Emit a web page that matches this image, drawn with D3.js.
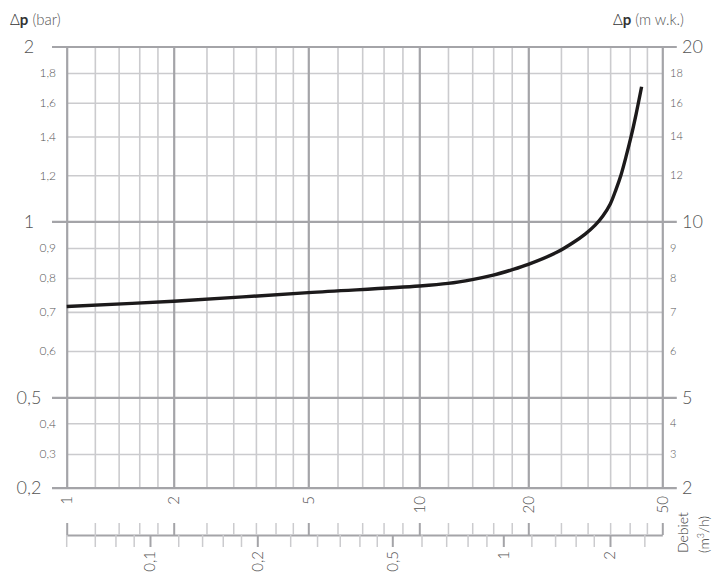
<!DOCTYPE html>
<html lang="nl">
<head>
    <meta charset="UTF-8">
    <title>Drukverlies</title>
    <script src="https://cdn.jsdelivr.net/npm/d3@7/dist/d3.min.js"></script>
    <style>
        body { margin: 0; background: #fff; }
        text { font-family: Lato, "Open Sans", sans-serif; fill: #555; font-weight: 300; }
    </style>
</head>
<body>
<script>
    var flow = [1, 2, 5, 10, 12, 14, 16, 18, 20, 24.3, 27.2, 29.5, 31.6, 33.3, 35, 36.4, 37.7, 39, 40.4, 41.8, 43.4]
    var dp = [0.715, 0.73, 0.755, 0.775, 0.783, 0.795, 0.809, 0.826, 0.844, 0.885, 0.92, 0.951, 0.985, 1.021, 1.07, 1.133, 1.202, 1.291, 1.4, 1.53, 1.705]

    var xMajor = [1, 2, 5, 10, 20, 50]
    var xMinor = [1.2, 1.4, 1.6, 1.8, 2.5, 3, 3.5, 4, 4.5, 6, 7, 8, 9, 12, 14, 16, 18, 25, 30, 35, 40, 45]
    var yMajor = [0.2, 0.5, 1, 2]
    var yMinor = [0.3, 0.4, 0.6, 0.7, 0.8, 0.9, 1.2, 1.4, 1.6, 1.8]
    var m3Major = [0.1, 0.2, 0.5, 1, 2]
    var m3Minor = [0.07, 0.08, 0.09, 0.12, 0.14, 0.16, 0.18, 0.25, 0.3, 0.35, 0.4, 0.45, 0.6, 0.7, 0.8, 0.9, 1.2, 1.4, 1.6, 1.8, 2.5]

    var width = 714, height = 577
    var nl = d3.formatLocale({decimal: ",", thousands: ".", grouping: [3], currency: ["€", ""]})
    var fmt = nl.format("~g")

    // schalen zijn niet helemaal logaritmisch, daarom stuksgewijs
    var x = d3.scaleLog().domain(xMajor).range([66.7, 173.7, 308.3, 419.3, 528.3, 662.3])
    var xm = d3.scaleLog().domain(m3Major).range([150, 257.3, 392.3, 503.3, 610])
    var y = d3.scaleLog().domain([0.2, 0.3, 0.4, 0.5, 1, 2]).range([487.7, 454, 423.3, 397.3, 221.3, 46.5])
    var yR = y.copy().domain(y.domain().map(d => d * 10))

    var L = x(1), R = x(50), T = y(2), B = y(0.2)
    var minorCol = '#cbcbce', majorCol = '#a4a4a8'

    var svg = d3.select('body').append('svg')
        .attr('width', width)
        .attr('height', height)

    // verticale rasterlijnen
    svg.append('g')
        .attr('transform', 'translate(0,' + B + ')')
        .call(d3.axisBottom(x).tickValues(xMinor).tickSize(-(B - T)).tickFormat(''))
        .call(g => g.select('.domain').remove())
        .call(g => g.selectAll('line').attr('stroke', minorCol).attr('stroke-width', 1.6))

    // horizontale rasterlijnen
    svg.append('g')
        .attr('transform', 'translate(' + L + ',0)')
        .call(d3.axisLeft(y).tickValues(yMinor).tickSize(-(R - L)).tickFormat(''))
        .call(g => g.select('.domain').remove())
        .call(g => g.selectAll('line').attr('stroke', minorCol).attr('stroke-width', 1.6))

    svg.append('g')
        .attr('transform', 'translate(0,' + B + ')')
        .call(d3.axisBottom(x).tickValues(xMajor).tickSize(-(B - T)).tickFormat(''))
        .call(g => g.select('.domain').remove())
        .call(g => g.selectAll('line').attr('stroke', majorCol).attr('stroke-width', 2.2))

    svg.append('g')
        .attr('transform', 'translate(' + (R + 14.5) + ',0)')
        .call(d3.axisLeft(y).tickValues(yMajor).tickSize(R + 14.5 - 52).tickFormat(''))
        .call(g => g.select('.domain').remove())
        .call(g => g.selectAll('line').attr('stroke', majorCol).attr('stroke-width', 2.2))

    // labels links
    svg.selectAll('.ylab-major').data(yMajor).enter().append('text')
        .attr('x', 29).attr('y', d => y(d)).attr('dy', '0.35em')
        .attr('text-anchor', 'middle').style('font-size', '18px')
        .text(d => fmt(d))
    svg.selectAll('.ylab-minor').data(yMinor).enter().append('text')
        .attr('x', 56).attr('y', d => y(d)).attr('dy', '0.35em')
        .attr('text-anchor', 'end').style('font-size', '12px')
        .text(d => fmt(d))

    // labels rechts (m w.k.)
    svg.selectAll('.rlab-major').data(yMajor.map(d => d * 10)).enter().append('text')
        .attr('x', 682).attr('y', d => yR(d)).attr('dy', '0.35em')
        .attr('text-anchor', 'start').style('font-size', '18px')
        .text(d => fmt(d))
    svg.selectAll('.rlab-minor').data(yMinor.map(d => d * 10)).enter().append('text')
        .attr('x', 670).attr('y', d => yR(d)).attr('dy', '0.35em')
        .attr('text-anchor', 'start').style('font-size', '11px')
        .text(d => fmt(d))

    // x-labels onder het raster
    svg.selectAll('.xlab').data(xMajor).enter().append('text')
        .attr('transform', d => 'translate(' + x(d) + ',496) rotate(-90)')
        .attr('dy', '0.35em').attr('text-anchor', 'end')
        .style('font-size', '15px')
        .text(d => fmt(d))

    // tweede as: m3/h
    var axY = 535
    svg.append('g')
        .attr('transform', 'translate(0,' + axY + ')')
        .call(d3.axisTop(x).tickValues(xMinor.concat(xMajor)).tickSize(12).tickSizeOuter(0).tickFormat(''))
        .call(g => g.select('.domain').attr('stroke', majorCol).attr('stroke-width', 2))
        .call(g => g.selectAll('line').attr('stroke', minorCol).attr('stroke-width', 1.5))
        .call(g => g.selectAll('.tick').filter(d => xMajor.indexOf(d) >= 0).select('line')
            .attr('stroke', majorCol).attr('stroke-width', 2))

    svg.append('g')
        .attr('transform', 'translate(0,' + axY + ')')
        .call(d3.axisBottom(xm).tickValues(m3Minor).tickSize(12).tickFormat(''))
        .call(g => g.select('.domain').remove())
        .call(g => g.selectAll('line').attr('stroke', minorCol).attr('stroke-width', 1.5))
    svg.append('g')
        .attr('transform', 'translate(0,' + axY + ')')
        .call(d3.axisBottom(xm).tickValues(m3Major).tickSize(12).tickFormat(''))
        .call(g => g.select('.domain').remove())
        .call(g => g.selectAll('line').attr('stroke', majorCol).attr('stroke-width', 2))
    svg.append('line')
        .attr('x1', L).attr('x2', L).attr('y1', axY).attr('y2', axY + 12)
        .attr('stroke', minorCol).attr('stroke-width', 1.5)

    svg.selectAll('.mlab').data(m3Major).enter().append('text')
        .attr('transform', d => 'translate(' + xm(d) + ',551) rotate(-90)')
        .attr('dy', '0.35em').attr('text-anchor', 'end')
        .style('font-size', '15px')
        .text(d => fmt(d))

    var deb = svg.append('g').style('font-size', '14px')
    deb.append('text')
        .attr('transform', 'translate(683,553) rotate(-90)')
        .attr('dy', '0.35em').style('fill', '#333')
        .text('Debiet')
    var unit = deb.append('text')
        .attr('transform', 'translate(704,553) rotate(-90)')
        .attr('dy', '0.35em').style('fill', '#333')
    unit.append('tspan').text('(m')
    unit.append('tspan').attr('dy', '-5').style('font-size', '9px').text('3')
    unit.append('tspan').attr('dy', '5').text('/h)')

    // titels
    var t1 = svg.append('text').attr('x', 10).attr('y', 25).style('font-size', '15px').style('fill', '#333')
    t1.append('tspan').text('Δ')
    t1.append('tspan').style('font-weight', 700).text('p')
    t1.append('tspan').style('fill', '#555').text(' (bar)')
    var t2 = svg.append('text').attr('x', 684).attr('y', 25).attr('text-anchor', 'end').style('font-size', '15px').style('fill', '#333')
    t2.append('tspan').text('Δ')
    t2.append('tspan').style('font-weight', 700).text('p')
    t2.append('tspan').style('fill', '#555').text(' (m w.k.)')

    // curve
    var line = d3.line()
        .x(d => x(d[0]))
        .y(d => y(d[1]))
        .curve(d3.curveCatmullRom.alpha(0.5))
    svg.append('path')
        .datum(flow.map((f, i) => [f, dp[i]]))
        .attr('d', line)
        .attr('fill', 'none')
        .attr('stroke', '#1c1a1b')
        .attr('stroke-width', 3.4)
</script>
</body>
</html>
